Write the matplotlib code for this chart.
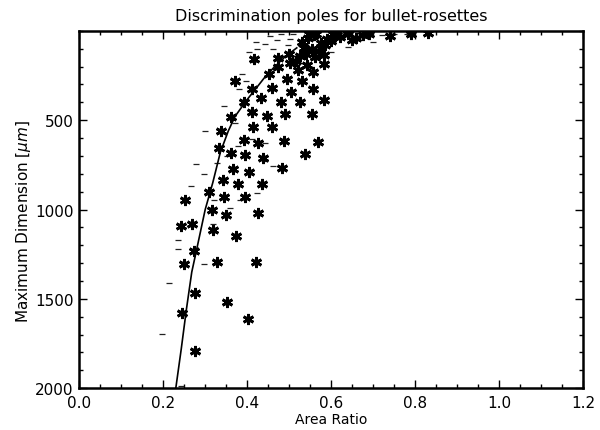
import matplotlib
matplotlib.use("Agg")
import matplotlib.pyplot as plt
from matplotlib.ticker import MultipleLocator, FixedLocator

# Asterisk points (area ratio, max dimension um)
star_x = [0.417, 0.371, 0.411, 0.459, 0.453, 0.474, 0.495, 0.505, 0.531, 0.525,
          0.481, 0.432, 0.392, 0.411, 0.447, 0.490, 0.554, 0.556, 0.584, 0.584,
          0.556, 0.543, 0.520, 0.502, 0.526, 0.561, 0.362, 0.338, 0.415, 0.459,
          0.392, 0.426, 0.488, 0.568, 0.333, 0.362, 0.395, 0.438, 0.538, 0.367,
          0.404, 0.484, 0.342, 0.377, 0.435, 0.310, 0.344, 0.395, 0.253, 0.315,
          0.349, 0.426, 0.243, 0.269, 0.319, 0.374, 0.274, 0.249, 0.328, 0.422,
          0.276, 0.351, 0.244, 0.401, 0.276,
          0.500, 0.540, 0.516, 0.473, 0.582,
          0.530, 0.545, 0.560, 0.575, 0.590, 0.605, 0.620, 0.535, 0.555, 0.570,
          0.585, 0.600, 0.565, 0.548, 0.610, 0.640, 0.660, 0.690, 0.739, 0.790,
          0.830, 0.650, 0.675]
star_y = [160, 278, 325, 321, 240, 203, 272, 340, 278, 396,
          396, 377, 396, 452, 475, 465, 465, 325, 385, 184,
          231, 193, 221, 178, 141, 146, 484, 559, 540, 540,
          610, 628, 615, 621, 653, 685, 696, 709, 690, 771,
          790, 765, 835, 859, 859, 902, 929, 929, 944, 1004,
          1032, 1019, 1090, 1079, 1116, 1146, 1234, 1304, 1291, 1291,
          1465, 1516, 1578, 1610, 1792,
          127, 127, 168, 151, 135,
          60, 40, 25, 70, 45, 20, 35, 95, 100, 110,
          80, 55, 15, 15, 30, 20, 40, 15, 30, 15,
          10, 50, 25]

# Dash points (area ratio, max dimension um)
dash_x = [0.196, 0.214, 0.242, 0.235, 0.235, 0.267, 0.278, 0.297, 0.297, 0.322,
          0.328, 0.360, 0.351, 0.377, 0.370, 0.381, 0.388, 0.404, 0.424, 0.443,
          0.470, 0.502, 0.497, 0.461, 0.397, 0.433, 0.411, 0.443, 0.461, 0.424,
          0.383, 0.443, 0.319, 0.420, 0.455, 0.480, 0.510, 0.620, 0.680, 0.700,
          0.720, 0.750, 0.780, 0.640, 0.600, 0.415, 0.345, 0.300]
dash_y = [1694, 1409, 1985, 1169, 1221, 868, 747, 803, 1304, 944,
          737, 991, 700, 643, 516, 325, 240, 118, 99, 71,
          53, 43, 81, 99, 278, 362, 604, 625, 756, 906,
          944, 728, 1079, 60, 30, 20, 15, 10, 15, 60,
          25, 20, 15, 90, 120, 175, 420, 560]

# Discrimination curve
curve_x = [0.230, 0.243, 0.255, 0.268, 0.280, 0.300, 0.318, 0.336, 0.355, 0.371,
           0.399, 0.421, 0.440, 0.461, 0.490, 0.518]
curve_y = [2000, 1780, 1563, 1350, 1220, 1000, 850, 680, 560, 479,
           387, 322, 265, 211, 145, 95]

x_ticks = [0.0, 0.2, 0.4, 0.6, 0.8, 1.0, 1.2]
x_tick_labels = ["0.0", "0.2", "0.4", "0.6", "0.8", "1.0", "1.2"]
y_ticks = [500, 1000, 1500, 2000]
y_tick_labels = ["500", "1000", "1500", "2000"]

fig = plt.figure(figsize=(6.0, 4.31), dpi=100)
ax = fig.add_axes([0.132, 0.097, 0.840, 0.829])

ax.plot(dash_x, dash_y, linestyle="none", marker="_", markersize=4.5,
        markeredgewidth=0.9, color="#222222")
ax.plot(star_x, star_y, linestyle="none", marker=(6, 2, 0), markersize=8,
        markeredgewidth=2.0, color="black")
ax.plot(curve_x, curve_y, color="black", linewidth=1.2)

ax.set_xlim(0.0, 1.2)
ax.set_ylim(2000, 0)
ax.xaxis.set_major_locator(FixedLocator(x_ticks))
ax.set_xticklabels(x_tick_labels)
ax.xaxis.set_minor_locator(MultipleLocator(0.05))
ax.yaxis.set_major_locator(FixedLocator(y_ticks))
ax.set_yticklabels(y_tick_labels)
ax.yaxis.set_minor_locator(MultipleLocator(100))

ax.tick_params(which="both", direction="in", top=True, right=True,
               labelsize=11, width=1.0)
ax.tick_params(which="major", length=6)
ax.tick_params(which="minor", length=3)
ax.tick_params(axis="x", which="major", pad=5)
ax.tick_params(axis="y", which="major", pad=4)
for s in ax.spines.values():
    s.set_linewidth(1.8)

ax.set_title("Discrimination poles for bullet-rosettes", fontsize=11.5, pad=8)
ax.set_xlabel("Area Ratio", fontsize=10, labelpad=0)
ax.xaxis.set_label_coords(0.5, -0.068)
ax.set_ylabel(r"Maximum Dimension [$\mu m$]", fontsize=11, labelpad=6)
ax.yaxis.set_label_coords(-0.092, 0.47)

fig.savefig("out.png", dpi=100)
